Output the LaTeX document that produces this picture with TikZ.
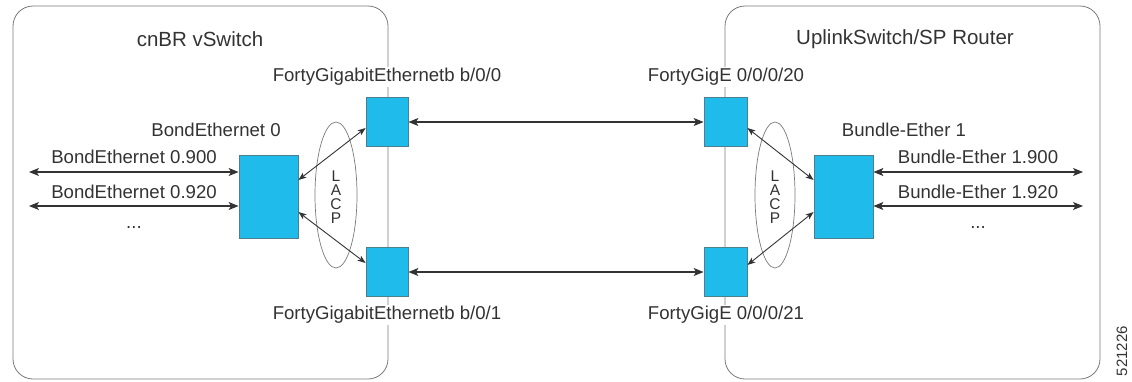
\documentclass[tikz,border=0pt]{standalone}
\usepackage{fontspec}
\setmainfont{Liberation Sans}
\usetikzlibrary{arrows.meta,calc}
\definecolor{portfill}{HTML}{1EBBEB}
\definecolor{portedge}{HTML}{4F7F8F}
\definecolor{txt}{HTML}{333333}
\definecolor{frame}{HTML}{7A7A7A}
\tikzset{
  port/.style={draw=portedge, line width=0.8pt, fill=portfill, inner sep=0pt},
  bigport/.style={port, minimum width=59pt, minimum height=83pt},
  smallport/.style={port, minimum width=42pt, minimum height=49pt},
  framebox/.style={draw=frame, line width=0.8pt, rounded corners=20pt},
  lbl/.style={text=txt, font=\fontsize{18.6}{20}\selectfont, inner sep=1pt},
  plbl/.style={lbl, fill=white},
  ttl/.style={text=txt, font=\fontsize{20.5}{22}\selectfont},
  link/.style={draw=txt, line width=1.1pt, arrows={Stealth[length=10pt,width=8pt,inset=2.5pt]-Stealth[length=10pt,width=8pt,inset=2.5pt]}},
  dlink/.style={draw=txt, line width=0.9pt, arrows={Stealth[length=8pt,width=6pt,inset=2pt]-Stealth[length=8pt,width=6pt,inset=2pt]}},
  lacp/.style={draw=frame, line width=0.7pt},
  lacptxt/.style={text=txt, font=\fontsize{15.5}{16}\selectfont, inner sep=0pt}
}
\begin{document}
\begin{tikzpicture}[x=1pt,y=-1pt]
\useasboundingbox (0,0) rectangle (1132,381);
% frames
\draw[framebox] (13,6) rectangle (388,379);
\draw[framebox] (725,6) rectangle (1100,379);
\node[ttl] (tL) at (200,39) {cnBR vSwitch};
\node[ttl] (tR) at (905,39) {UplinkSwitch/SP Router};
% LACP ellipses
\draw[lacp] (336,195) ellipse [x radius=21, y radius=73];
\draw[lacp] (775,195) ellipse [x radius=20, y radius=73];
\node[lacptxt] (lLa) at (336,176.5) {L};
\node[lacptxt] (lLb) at (336,190.5) {A};
\node[lacptxt] (lLc) at (336,204.5) {C};
\node[lacptxt] (lLd) at (336,218.5) {P};
\node[lacptxt] (lRa) at (775,176.5) {L};
\node[lacptxt] (lRb) at (775,190.5) {A};
\node[lacptxt] (lRc) at (775,204.5) {C};
\node[lacptxt] (lRd) at (775,218.5) {P};
% ports
\node[bigport] (bL) at (268.5,196.5) {};
\node[bigport] (bR) at (843.5,196.5) {};
\node[smallport] (sLT) at (387,122) {};
\node[smallport] (sLB) at (387,272) {};
\node[smallport, minimum width=43pt] (sRT) at (725.5,122) {};
\node[smallport, minimum width=43pt] (sRB) at (725.5,272) {};
% labels
\node[plbl] (lLT) at (387,77) {FortyGigabitEthernetb b/0/0};
\node[plbl] (lLB) at (387,315) {FortyGigabitEthernetb b/0/1};
\node[plbl] (lRT) at (726,77) {FortyGigE 0/0/0/20};
\node[plbl] (lRB) at (726,315) {FortyGigE 0/0/0/21};
\node[lbl] (lbL) at (216,130) {BondEthernet 0};
\node[lbl] (lbR) at (904,130) {Bundle-Ether 1};
\node[lbl] (l900) at (134,157) {BondEthernet 0.900};
\node[lbl] (l920) at (134,192) {BondEthernet 0.920};
\node[lbl] (ldL) at (134,227) {...};
\node[lbl] (r900) at (978,157) {Bundle-Ether 1.900};
\node[lbl] (r920) at (978,192) {Bundle-Ether 1.920};
\node[lbl] (ldR) at (978,227) {...};
\node[text=txt, font=\fontsize{15}{16}\selectfont, rotate=90] (fig) at (1122,351) {521226};
% end coordinates
\coordinate (eL1) at (29,172);
\coordinate (eL2) at (29,206);
\coordinate (eR1) at (1083,172);
\coordinate (eR2) at (1083,206);
% connectors
\draw[link] (eL1) -- ([yshift=24.5pt]bL.west);
\draw[link] (eL2) -- ([yshift=-9.5pt]bL.west);
\draw[link] ([yshift=24.5pt]bR.east) -- (eR1);
\draw[link] ([yshift=-9.5pt]bR.east) -- (eR2);
\draw[link] (sLT.east) -- (sRT.west);
\draw[link] (sLB.east) -- (sRB.west);
\draw[dlink] ([yshift=16.5pt]bL.east) -- ([yshift=-6pt]sLT.west);
\draw[dlink] ([yshift=-15.5pt]bL.east) -- ([yshift=9pt]sLB.west);
\draw[dlink] ([yshift=-6pt]sRT.east) -- ([yshift=16.5pt]bR.west);
\draw[dlink] ([yshift=7pt]sRB.east) -- ([yshift=-15.5pt]bR.west);
\end{tikzpicture}
\end{document}
